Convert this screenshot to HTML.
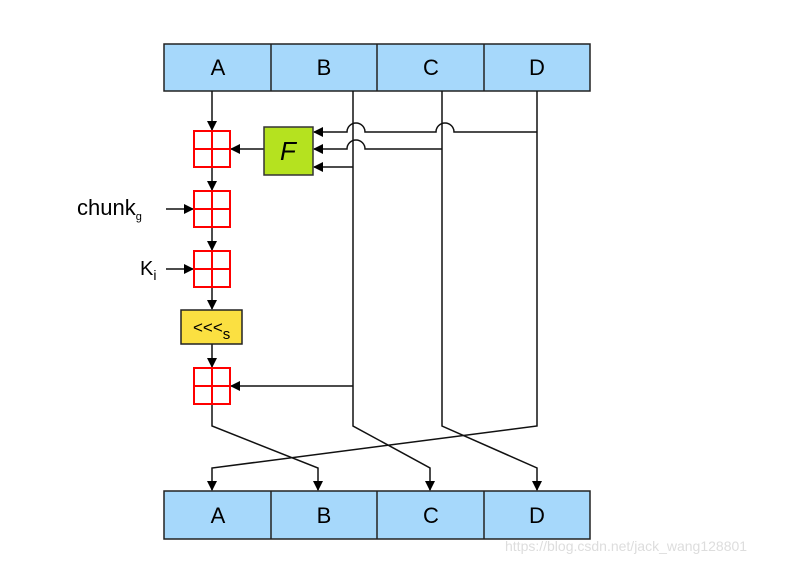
<!DOCTYPE html>
<html><head><style>body{margin:0;background:#fff}svg{display:block}</style></head>
<body>
<svg width="787" height="562" viewBox="0 0 787 562" xmlns="http://www.w3.org/2000/svg" font-family="Liberation Sans, sans-serif">
<defs>
<marker id="ar" markerWidth="10" markerHeight="10" refX="9" refY="5" orient="auto" markerUnits="userSpaceOnUse">
<path d="M0,0 L10,5 L0,10 z" fill="#000"/></marker>
<g id="add"><rect x="0" y="0" width="36" height="36" fill="#fff" stroke="#f00" stroke-width="2"/><line x1="18" y1="0" x2="18" y2="36" stroke="#f00" stroke-width="2"/><line x1="0" y1="18" x2="36" y2="18" stroke="#f00" stroke-width="2"/></g>
</defs>
<!-- top box -->
<rect x="164" y="44" width="426" height="47" fill="#a6d8fb" stroke="#222" stroke-width="1.5"/>
<g stroke="#222" stroke-width="1.5"><line x1="271" y1="44" x2="271" y2="91"/><line x1="377" y1="44" x2="377" y2="91"/><line x1="484" y1="44" x2="484" y2="91"/></g>
<g font-size="22" text-anchor="middle" fill="#000"><text x="218" y="75">A</text><text x="324" y="75">B</text><text x="431" y="75">C</text><text x="537" y="75">D</text></g>
<!-- bottom box -->
<rect x="164" y="491" width="426" height="48" fill="#a6d8fb" stroke="#222" stroke-width="1.5"/>
<g stroke="#222" stroke-width="1.5"><line x1="271" y1="491" x2="271" y2="539"/><line x1="377" y1="491" x2="377" y2="539"/><line x1="484" y1="491" x2="484" y2="539"/></g>
<g font-size="22" text-anchor="middle" fill="#000"><text x="218" y="523">A</text><text x="324" y="523">B</text><text x="431" y="523">C</text><text x="537" y="523">D</text></g>
<g stroke="#111" stroke-width="1.5" fill="none">
<line x1="212" y1="91" x2="212" y2="130" marker-end="url(#ar)"/>
<line x1="212" y1="167" x2="212" y2="190" marker-end="url(#ar)"/>
<line x1="212" y1="227" x2="212" y2="250" marker-end="url(#ar)"/>
<line x1="212" y1="287" x2="212" y2="309" marker-end="url(#ar)"/>
<line x1="212" y1="344" x2="212" y2="367" marker-end="url(#ar)"/>
<line x1="264" y1="149" x2="231" y2="149" marker-end="url(#ar)"/>
<line x1="166" y1="209" x2="193" y2="209" marker-end="url(#ar)"/>
<line x1="166" y1="269" x2="193" y2="269" marker-end="url(#ar)"/>
<line x1="353" y1="386" x2="231" y2="386" marker-end="url(#ar)"/>
<!-- verticals -->
<polyline points="353,91 353,426 430,468 430,490" marker-end="url(#ar)"/>
<polyline points="442,91 442,426 537,468 537,490" marker-end="url(#ar)"/>
<polyline points="537,91 537,426 212,468 212,490" marker-end="url(#ar)"/>
<polyline points="212,404 212,426 318,468 318,490" marker-end="url(#ar)"/>
<!-- to F -->
<path d="M537,132 H454 A9,9 0 0 0 436,132 H365 A9,9 0 0 0 347,132 H314" marker-end="url(#ar)"/>
<path d="M442,149 H365 A9,9 0 0 0 347,149 H314" marker-end="url(#ar)"/>
<line x1="353" y1="167" x2="314" y2="167" marker-end="url(#ar)"/>
</g>
<use href="#add" x="194" y="131"/>
<use href="#add" x="194" y="191"/>
<use href="#add" x="194" y="251"/>
<use href="#add" x="194" y="368"/>
<rect x="264" y="127" width="49" height="48" fill="#b5e21f" stroke="#333" stroke-width="1.5"/>
<text x="288" y="160" font-size="26" font-style="italic" text-anchor="middle">F</text>
<rect x="181" y="310" width="61" height="34" fill="#fbe041" stroke="#222" stroke-width="1.5"/>
<text x="193" y="333" font-size="17">&lt;&lt;&lt;<tspan font-size="15" dy="6">s</tspan></text>
<text x="77" y="215" font-size="22">chunk<tspan font-size="11" dy="5">g</tspan></text>
<text x="140" y="275" font-size="20">K<tspan font-size="14" dy="5">i</tspan></text>
<text x="505" y="551" font-size="14" fill="#ddd">https://blog.csdn.net/jack_wang128801</text>
</svg>
</body></html>
